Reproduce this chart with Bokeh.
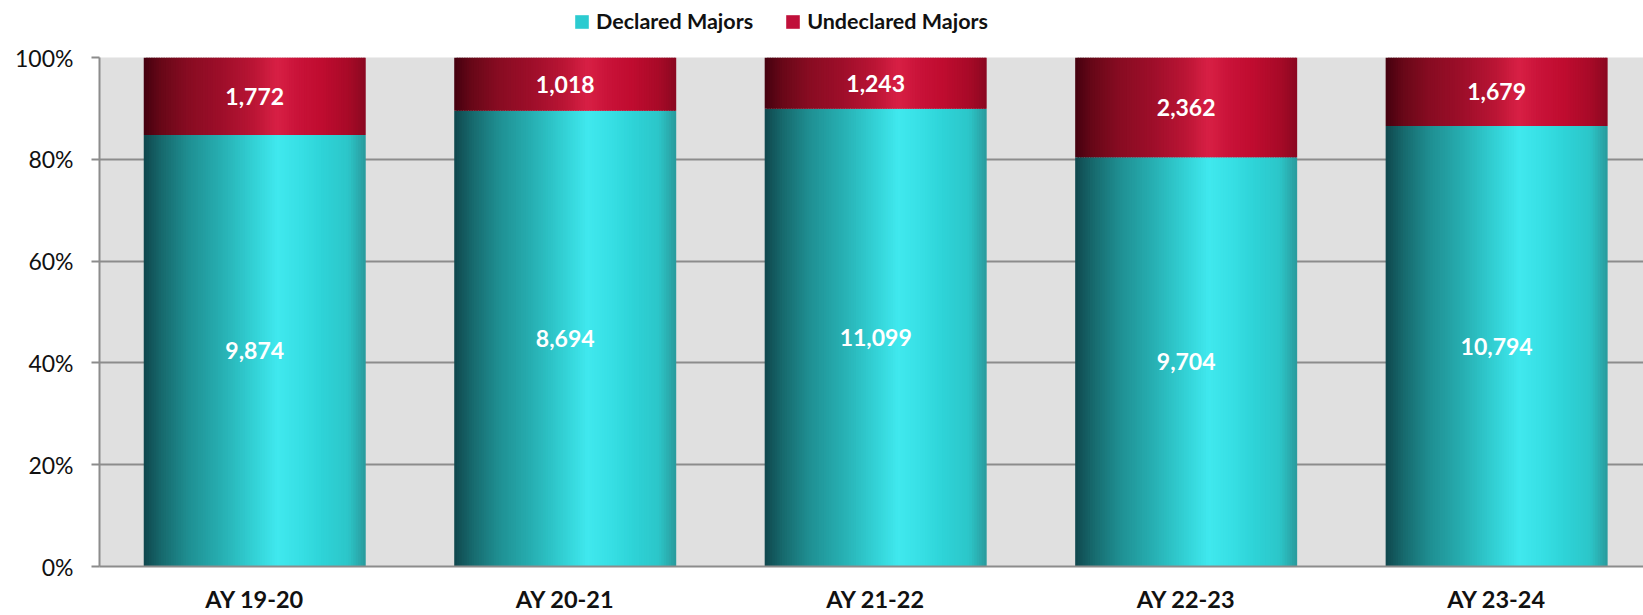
from bokeh.plotting import figure
from bokeh.layouts import column
from bokeh.models import (Range1d, FixedTicker, ColumnDataSource, LabelSet, Legend,
                          LegendItem, NumeralTickFormatter)
from bokeh.core.properties import value
from bokeh.embed import file_html
from bokeh.resources import INLINE

# ---- data ----
categories = ["AY 19-20", "AY 20-21", "AY 21-22", "AY 22-23", "AY 23-24"]
declared = [9874, 8694, 11099, 9704, 10794]
undeclared = [1772, 1018, 1243, 2362, 1679]
series_names = ["Declared Majors", "Undeclared Majors"]
yticks = [0, 0.2, 0.4, 0.6, 0.8, 1.0]

# ---- style ----
FONT = "Lato"
BAR_W = 0.715
NSTRIP = 90
teal_stops = [(0, "#0f474d"), (0.08, "#17696d"), (0.2, "#1f8f92"), (0.35, "#27afb2"),
              (0.5, "#33d2d6"), (0.6, "#40e8ee"), (0.7, "#38e0e5"), (0.8, "#2ed4d8"),
              (0.92, "#2cc6c9"), (1.0, "#2a9a9c")]
red_stops = [(0, "#45000f"), (0.08, "#680818"), (0.2, "#880c22"), (0.35, "#9e0e2a"),
             (0.5, "#bb1535"), (0.6, "#d82045"), (0.7, "#c81238"), (0.8, "#c00c30"),
             (0.92, "#a80a28"), (1.0, "#8a0820")]


def hex2rgb(h):
    h = h.lstrip("#")
    return tuple(int(h[i:i + 2], 16) for i in (0, 2, 4))


def interp(stops, t):
    for (t0, c0), (t1, c1) in zip(stops[:-1], stops[1:]):
        if t0 <= t <= t1:
            f = (t - t0) / (t1 - t0) if t1 > t0 else 0
            a, b = hex2rgb(c0), hex2rgb(c1)
            return "#%02x%02x%02x" % tuple(int(round(a[k] + (b[k] - a[k]) * f)) for k in range(3))
    return stops[-1][1]


totals = [d + u for d, u in zip(declared, undeclared)]
dec_frac = [d / t for d, t in zip(declared, totals)]

# ---- legend strip (separate small figure, frame aligned with main chart) ----
lf = figure(width=1643, height=40, output_backend="svg", toolbar_location=None,
            x_range=Range1d(0, 1), y_range=Range1d(0, 1),
            min_border=0, x_axis_type=None, y_axis_type=None)
lf.outline_line_color = None
lf.background_fill_color = "white"
lf.border_fill_color = "white"
lf.xgrid.grid_line_color = None
lf.ygrid.grid_line_color = None
# zero-size proxy glyphs that only serve as legend swatches
r1 = lf.quad(left=[0], right=[0], bottom=[0], top=[0], fill_color="#2ccbd0", line_color=None)
r2 = lf.quad(left=[0], right=[0], bottom=[0], top=[0], fill_color="#c0103a", line_color=None)
legend = Legend(items=[LegendItem(label=series_names[0], renderers=[r1]),
                       LegendItem(label=series_names[1], renderers=[r2])],
                orientation="horizontal", location=(474, 6),
                glyph_width=17, glyph_height=17, label_standoff=6, spacing=31,
                padding=0, margin=0, border_line_color=None, background_fill_alpha=0,
                label_text_font=FONT, label_text_font_style="bold",
                label_text_font_size="21.5px", label_text_color="#111111")
lf.add_layout(legend, "center")

# ---- main chart ----
p = figure(width=1643, height=575, output_backend="svg", toolbar_location=None,
           x_range=Range1d(-0.5, 4.473), y_range=Range1d(0, 1),
           min_border_left=99, min_border_right=0, min_border_top=17, min_border_bottom=47)
p.background_fill_color = "#e0e0e0"
p.border_fill_color = "white"
p.outline_line_color = None

# gradient bars as thin strips
L, R, B, T, C = [], [], [], [], []
dw = BAR_W / NSTRIP
for i, df in enumerate(dec_frac):
    x0 = i - BAR_W / 2
    for bot, top, stops in [(0, df, teal_stops), (df, 1.0, red_stops)]:
        for k in range(NSTRIP):
            t = (k + 0.5) / NSTRIP
            L.append(x0 + k * dw)
            R.append(x0 + (k + 1) * dw + (dw * 0.6 if k < NSTRIP - 1 else 0))
            B.append(bot)
            T.append(top)
            C.append(interp(stops, t))
p.quad(left=L, right=R, bottom=B, top=T, fill_color=C, line_color=None)

# value labels
xs = list(range(len(categories)))
src = ColumnDataSource(dict(
    x=xs + xs,
    y=[df / 2 for df in dec_frac] + [(df + 1) / 2 for df in dec_frac],
    txt=[f"{v:,}" for v in declared] + [f"{v:,}" for v in undeclared]))
p.add_layout(LabelSet(x="x", y="y", text="txt", source=src, text_align="center",
                      text_baseline="middle", text_color="white", text_font=value(FONT),
                      text_font_style="bold", text_font_size="23px"))

# axes
p.xaxis.ticker = FixedTicker(ticks=xs)
p.xaxis.major_label_overrides = {i: c for i, c in enumerate(categories)}
p.xaxis.major_tick_line_color = None
p.xaxis.minor_tick_line_color = None
p.xaxis.axis_line_color = "#8c8c8c"
p.xaxis.axis_line_width = 2
p.xaxis.major_label_text_font = FONT
p.xaxis.major_label_text_font_style = "bold"
p.xaxis.major_label_text_font_size = "23.5px"
p.xaxis.major_label_text_color = "#111111"
p.xaxis.major_label_standoff = 12

p.yaxis.ticker = FixedTicker(ticks=yticks)
p.yaxis.formatter = NumeralTickFormatter(format="0%")
p.yaxis.axis_line_color = "#8c8c8c"
p.yaxis.axis_line_width = 2
p.yaxis.major_tick_line_color = "#8c8c8c"
p.yaxis.major_tick_line_width = 2
p.yaxis.major_tick_out = 8
p.yaxis.major_tick_in = 0
p.yaxis.minor_tick_line_color = None
p.yaxis.major_label_text_font = FONT
p.yaxis.major_label_text_font_size = "23px"
p.yaxis.major_label_text_color = "#111111"
p.yaxis.major_label_standoff = 18

p.xgrid.grid_line_color = None
p.ygrid.grid_line_color = "#8c8c8c"
p.ygrid.grid_line_width = 2

open("out.html", "w").write(file_html(column(lf, p, spacing=0), INLINE))
